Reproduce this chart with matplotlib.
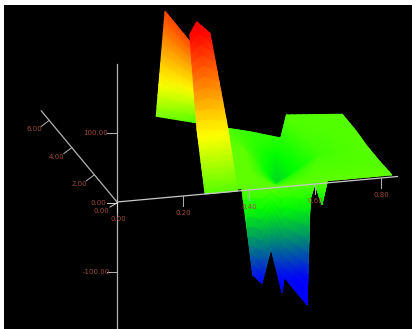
import numpy as np
import matplotlib
matplotlib.use("Agg")
import matplotlib.pyplot as plt
from matplotlib.colors import LinearSegmentedColormap, Normalize

# tick values
x_ticks = [0.2, 0.4, 0.6, 0.8]
y_ticks = [2.0, 4.0, 6.0]
z_ticks = [100.0, -100.0]

# negative wall hanging below the x axis (two rows: top and bottom)
wall_x = [[0.375, 0.412, 0.439, 0.467, 0.50, 0.506, 0.576, 0.585, 0.60, 0.621, 0.636],
          [0.412, 0.412, 0.439, 0.467, 0.50, 0.506, 0.576, 0.585, 0.60, 0.621, 0.636]]
wall_y = [[0.0] * 11, [0.0] * 11]
wall_z = [[15] * 11,
          [-123, -123, -136, -87, -152, -130, -173, -22, 0, -31, 0]]

# floor of the surface, rows run front to back
floor_x = [[0.34, 0.43, 0.46, 0.494, 0.60, 0.833],
           [0.34, 0.45, 0.48, 0.53, 0.65, 0.835],
           [0.34, 0.479, 0.51, 0.57, 0.70, 0.832],
           [0.37, 0.48, 0.53, 0.60, 0.69, 0.84],
           [0.403, 0.488, 0.557, 0.636, 0.681, 0.84]]
floor_y = [[0.0] * 6,
           [1.5, 1.5, 1.5, 1.5, 1.5, 1.2],
           [2.5, 2.5, 2.5, 2.5, 2.5, 2.18],
           [3.5, 3.5, 3.5, 3.5, 3.5, 3.4],
           [4.7, 4.5, 4.5, 4.07, 4.9, 4.6]]
floor_z = [[3, 3, 3, 3, 3, 3],
           [5, 3, -6, -25, -3, 0],
           [8, 4, -12, -45, -8, 2],
           [6, 0, -12, -35, -5, 0],
           [4, -3, -11, -15, 0, 0]]

# back wall, left side of the ridge
back_x = [[0.29, 0.414], [0.317, 0.324]]
back_y = [[5.0, 5.0], [5.0, 3.0]]
back_z = [[13, -2], [163, 158]]

# front wall, from the x axis up to the ridge
front_x = [[0.267, 0.30, 0.365],
           [0.2836, 0.33, 0.3776],
           [0.279, 0.30, 0.34]]
front_y = [[0.0] * 3, [1.2] * 3, [1.7] * 3]
front_z = [[0, 0, 0],
           [68, 66, 64],
           [196, 213, 195]]


def project(x, y, z):
    # fixed oblique view of the 3d box
    x, y, z = np.asarray(x, float), np.asarray(y, float), np.asarray(z, float)
    return 117 + 330 * x - 11.3 * y, 202 - 30 * x - 13.6 * y - 0.695 * z


heat = LinearSegmentedColormap.from_list(
    "heat", [(0.0, "#0000ff"), (0.313, "#00ff00"), (0.582, "#ffff00"), (1.0, "#ff0000")])
norm = Normalize(-135, 200)


def refine(grid, n=10):
    # finer mesh so the colour follows z inside each cell, not just at corners
    grid = np.asarray(grid, float)
    rows, cols = grid.shape
    ri = np.linspace(0, rows - 1, (rows - 1) * n + 1)
    ci = np.linspace(0, cols - 1, (cols - 1) * n + 1)
    by_col = np.array([np.interp(ri, np.arange(rows), grid[:, c]) for c in range(cols)]).T
    return np.array([np.interp(ci, np.arange(cols), row) for row in by_col])


def draw_patch(ax, xs, ys, zs, zorder):
    sx, sy = project(xs, ys, zs)
    ax.pcolormesh(refine(sx), refine(sy), refine(zs), shading="gouraud",
                  cmap=heat, norm=norm, zorder=zorder)


fig = plt.figure(figsize=(4.12, 3.29), dpi=100, facecolor="white")
ax = fig.add_axes([4 / 412, 0, 408 / 412, 324 / 329])
ax.set_facecolor("black")
ax.set_xticks([])
ax.set_yticks([])
for s in ax.spines.values():
    s.set_visible(False)

draw_patch(ax, wall_x, wall_y, wall_z, 1)
draw_patch(ax, floor_x, floor_y, floor_z, 2)
draw_patch(ax, back_x, back_y, back_z, 3)
draw_patch(ax, front_x, front_y, front_z, 4)

axis_grey = "#b4b4b4"
label_red = "#a04a3c"
font = dict(color=label_red, fontsize=5, ha="center", va="center", zorder=7)

# axes lines
sx, sy = project([0, 0.85], [0, 0], [0, 0])
ax.plot(sx, sy, color="#c8c8c8", lw=0.9, zorder=5)
sx, sy = project([0, 0], [0, 6.7], [0, 0])
ax.plot(sx, sy, color=axis_grey, lw=0.9, zorder=5)
sx, sy = project([0, 0], [0, 0], [198, -182])
ax.plot(sx, sy, color=axis_grey, lw=0.9, zorder=5)

# x ticks
for v in x_ticks:
    px, py = project(v, 0, 0)
    ax.plot([px, px], [py, py + 10], color=axis_grey, lw=0.7, zorder=5)
    ax.text(px, py + 17, f"{v:.2f}", **font)

# y ticks
for v in y_ticks:
    px, py = project(0, v, 0)
    ax.plot([px, px - 8], [py, py + 6], color=axis_grey, lw=0.7, zorder=5)
    ax.text(px - 15, py + 9, f"{v:.2f}", **font)

# z ticks
for v in z_ticks:
    px, py = project(0, 0, v)
    ax.plot([px - 10, px], [py, py], color=axis_grey, lw=0.7, zorder=5)
    ax.text(px - 21, py, f"{v:.2f}", **font)

# the three zero labels at the origin
px, py = project(0, 0, 0)
ax.plot([px - 10, px], [py + 1, py + 1], color="#d8d8d8", lw=0.7, zorder=5)
ax.plot([px - 7, px], [py + 5, py + 1], color="#d8d8d8", lw=0.7, zorder=5)
ax.plot([px, px], [py, py + 10], color="#d8d8d8", lw=0.7, zorder=5)
ax.text(px - 19, py + 1, "0.00", **font)
ax.text(px - 16, py + 9, "0.00", **font)
ax.text(px + 1, py + 17, "0.00", **font)

# limits last, plotting would otherwise move them
ax.set_xlim(4, 412)
ax.set_ylim(329, 5)

fig.savefig("out.png", dpi=100, facecolor="white")
